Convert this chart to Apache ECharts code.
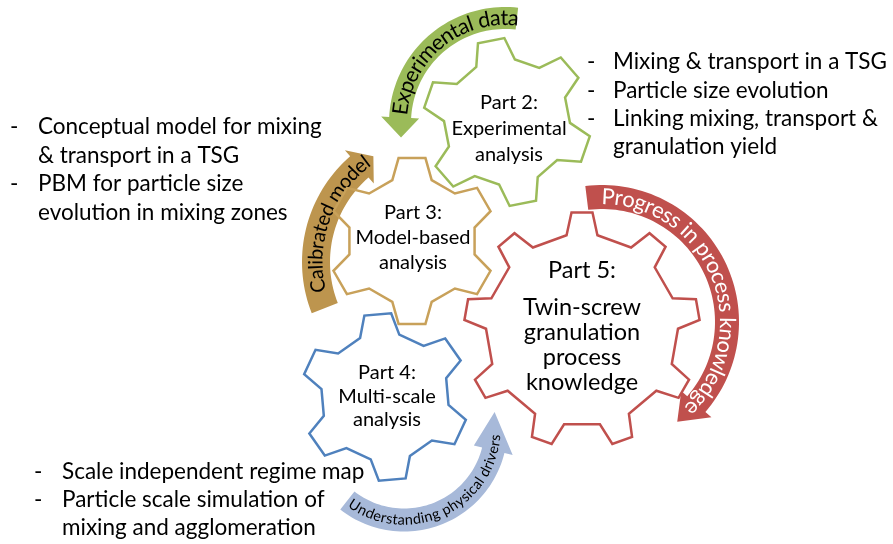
<!DOCTYPE html>
<html><head><meta charset="utf-8">
<script src="https://cdn.jsdelivr.net/npm/echarts@6/dist/echarts.min.js"></script>
<style>html,body{margin:0;padding:0;background:#fff}#main{width:893px;height:544px}</style>
</head><body><div id="main"></div>
<script>
// ---------- data ----------
const gearNames = ['Part 2', 'Part 3', 'Part 4', 'Part 5'];
const gearLabels = [
  ['Part 2:', 'Experimental', 'analysis'],
  ['Part 3:', 'Model-based', 'analysis'],
  ['Part 4:', 'Multi-scale', 'analysis'],
  ['Part 5:', 'Twin-screw', 'granulation', 'process', 'knowledge']
];
const gearCenterX = [507, 412, 385, 582];
const gearCenterY = [122, 241, 397, 330];
const gearOuterR = [84, 84, 84, 118];
const gearInnerR = [63, 64, 64, 96];
const gearTeeth = [6, 6, 6, 9];
const gearRotation = [101, 90, 95, 90];

const arrowTexts = ['Experimental data', 'Calibrated model', 'Progress in process knowledge', 'Understanding physical drivers'];
const arrowCenterX = [505, 442, 602, 404];
const arrowCenterY = [123, 262, 322, 428];
const arrowRadius = [105, 126, 125, 92];
const arrowStartDeg = [83.5, 201.5, 97, -128];
const arrowEndDeg = [177, 131, -41, -14];
const arrowTipDeg = [188, 123, -53, 10];
const arrowTextMidDeg = [129, 160, 22, -65];

const notesLeft = ['Conceptual model for mixing', '& transport in a TSG', 'PBM for particle size', 'evolution in mixing zones'];
const notesLeftBullet = [1, 0, 1, 0];
const notesTopRight = ['Mixing & transport in a TSG', 'Particle size evolution', 'Linking mixing, transport &', 'granulation yield'];
const notesTopRightBullet = [1, 1, 1, 0];
const notesBottom = ['Scale independent regime map', 'Particle scale simulation of', 'mixing and agglomeration'];
const notesBottomBullet = [1, 1, 0];

// ---------- styles / layout ----------
const FONT = 'Lato';
const gearStyle = {
  colors: ['#9bbb59', '#c8a15a', '#4f81bd', '#c0504d'],
  tipHalf: [13.5, 13.5, 13.5, 10.5],
  baseHalf: [20, 20, 20, 15.5],
  labelX: [509, 413, 387, 582],
  labelY: [[103, 129, 155], [213, 238, 263], [373, 397, 420], [270, 307, 332, 357, 382]],
  fontSize: [20, 20, 20, 23.5]
};
const arrowStyle = {
  colors: ['#9bbb59', '#bd954e', '#c0504d', '#a7b9d9'],
  width: [22, 28, 24, 23],
  headHalf: [19, 22, 20, 20],
  fontSize: [21.5, 20, 22, 14.5],
  textColor: ['#000', '#000', '#fff', '#000'],
  inward: [false, false, false, true]
};
const noteBlocks = [
  {lines: notesLeft, bullets: notesLeftBullet, dashX: 10, textX: 38, y0: 127, lh: 28.5},
  {lines: notesTopRight, bullets: notesTopRightBullet, dashX: 587, textX: 613, y0: 62, lh: 28.3},
  {lines: notesBottom, bullets: notesBottomBullet, dashX: 34, textX: 62, y0: 472, lh: 28}
];
const NOTE_SIZE = 22.5;

// ---------- helpers ----------
const meas = document.createElement('canvas').getContext('2d');
const rad = d => d * Math.PI / 180;

function gearPoints(i) {
  const cx = gearCenterX[i], cy = gearCenterY[i], R = gearOuterR[i], r = gearInnerR[i];
  const n = gearTeeth[i], rot = rad(gearRotation[i]);
  const ta = gearStyle.tipHalf[i] / R, ba = gearStyle.baseHalf[i] / r;
  const pts = [];
  for (let k = 0; k < n; k++) {
    const a = rot - k * 2 * Math.PI / n;
    [[r, a + ba], [R, a + ta], [R, a - ta], [r, a - ba]].forEach(([rr, aa]) =>
      pts.push([cx + rr * Math.cos(aa), cy - rr * Math.sin(aa)]));
  }
  return pts;
}

function arrowPoints(i) {
  const cx = arrowCenterX[i], cy = arrowCenterY[i], r = arrowRadius[i];
  const hw = arrowStyle.width[i] / 2, hh = arrowStyle.headHalf[i];
  const s = arrowStartDeg[i], e = arrowEndDeg[i], t = arrowTipDeg[i];
  const P = (rr, d) => [cx + rr * Math.cos(rad(d)), cy - rr * Math.sin(rad(d))];
  const n = Math.max(2, Math.ceil(Math.abs(e - s) / 2));
  const pts = [];
  for (let k = 0; k <= n; k++) pts.push(P(r + hw, s + (e - s) * k / n));
  pts.push(P(r + hh, e)); pts.push(P(r, t)); pts.push(P(r - hh, e));
  for (let k = n; k >= 0; k--) pts.push(P(r - hw, s + (e - s) * k / n));
  return pts;
}

function arcText(c, rPix, midDeg, text, size, color, inward) {
  const font = size + 'px ' + FONT;
  meas.font = font;
  const chars = Array.from(text);
  const widths = chars.map(ch => meas.measureText(ch).width);
  const total = widths.reduce((a, b) => a + b, 0);
  const mid = rad(midDeg);
  let cur = inward ? mid - total / (2 * rPix) : mid + total / (2 * rPix);
  const out = [];
  chars.forEach((ch, k) => {
    const w = widths[k];
    const a = inward ? cur + w / (2 * rPix) : cur - w / (2 * rPix);
    cur = inward ? cur + w / rPix : cur - w / rPix;
    if (ch === ' ') return;
    out.push({
      type: 'text', x: c[0] + rPix * Math.cos(a), y: c[1] - rPix * Math.sin(a),
      rotation: inward ? a + Math.PI / 2 : a - Math.PI / 2,
      style: {text: ch, font: font, fill: color, align: 'center', verticalAlign: 'middle'}
    });
  });
  return out;
}

// ---------- chart ----------
const chart = echarts.init(document.getElementById('main'));
const noteData = [];
noteBlocks.forEach((b, bi) => b.lines.forEach((t, li) => noteData.push([b.textX, b.y0 + li * b.lh, bi, li])));

chart.setOption({
  animation: false,
  grid: {left: 0, right: 0, top: 0, bottom: 0},
  xAxis: {type: 'value', min: 0, max: 893, show: false},
  yAxis: {type: 'value', min: 0, max: 544, inverse: true, show: false},
  series: [
    {
      type: 'custom', name: 'arrows', clip: false,
      data: arrowTexts.map((t, i) => [arrowCenterX[i], arrowCenterY[i], i]),
      renderItem: (params, api) => {
        const i = params.dataIndex;
        const pts = arrowPoints(i).map(p => api.coord(p));
        const c = api.coord([arrowCenterX[i], arrowCenterY[i]]);
        const rPix = api.coord([arrowCenterX[i] + arrowRadius[i], arrowCenterY[i]])[0] - c[0];
        return {
          type: 'group',
          children: [{type: 'polygon', shape: {points: pts}, style: {fill: arrowStyle.colors[i], stroke: 'none'}}]
            .concat(arcText(c, rPix, arrowTextMidDeg[i], arrowTexts[i], arrowStyle.fontSize[i], arrowStyle.textColor[i], arrowStyle.inward[i]))
        };
      }
    },
    {
      type: 'custom', name: 'gears', clip: false,
      data: gearNames.map((n, i) => [gearCenterX[i], gearCenterY[i], i]),
      renderItem: (params, api) => {
        const i = params.dataIndex;
        const pts = gearPoints(i).map(p => api.coord(p));
        const children = [{type: 'polygon', shape: {points: pts},
          style: {fill: 'none', stroke: gearStyle.colors[i], lineWidth: 2.5, lineJoin: 'miter'}}];
        gearLabels[i].forEach((t, k) => {
          const p = api.coord([gearStyle.labelX[i], gearStyle.labelY[i][k]]);
          children.push({type: 'text', x: p[0], y: p[1],
            style: {text: t, font: gearStyle.fontSize[i] + 'px ' + FONT, fill: '#000', align: 'center', verticalAlign: 'middle'}});
        });
        return {type: 'group', children};
      }
    },
    {
      type: 'custom', name: 'notes', clip: false,
      data: noteData,
      renderItem: (params, api) => {
        const [x, y, bi, li] = noteData[params.dataIndex];
        const b = noteBlocks[bi];
        const p = api.coord([x, y]);
        const children = [{type: 'text', x: p[0], y: p[1],
          style: {text: b.lines[li], font: NOTE_SIZE + 'px ' + FONT, fill: '#000', align: 'left', verticalAlign: 'middle'}}];
        if (b.bullets[li]) {
          const d = api.coord([b.dashX, y]);
          children.push({type: 'text', x: d[0], y: d[1],
            style: {text: '-', font: NOTE_SIZE + 'px ' + FONT, fill: '#000', align: 'left', verticalAlign: 'middle'}});
        }
        return {type: 'group', children};
      }
    }
  ]
});
</script></body></html>
